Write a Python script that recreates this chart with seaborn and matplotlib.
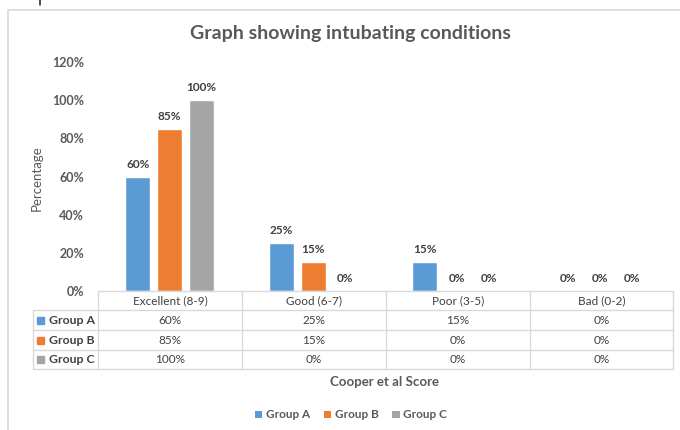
import matplotlib
matplotlib.use("Agg")
import matplotlib.pyplot as plt
from matplotlib.patches import Patch, Rectangle
from matplotlib.lines import Line2D
import seaborn as sns
import pandas as pd

categories = ["Excellent (8-9)", "Good (6-7)", "Poor (3-5)", "Bad (0-2)"]
groups = ["Group A", "Group B", "Group C"]
group_a = [60, 25, 15, 0]
group_b = [85, 15, 0, 0]
group_c = [100, 0, 0, 0]
y_ticks = [0, 20, 40, 60, 80, 100, 120]
colors = ["#5B9BD5", "#ED7D31", "#A5A5A5"]

series = {"Group A": group_a, "Group B": group_b, "Group C": group_c}
rows = []
for g in groups:
    for c, v in zip(categories, series[g]):
        rows.append({"Score": c, "Group": g, "Value": v})
df = pd.DataFrame(rows)

sns.set_theme(style="white")
plt.rcParams["font.family"] = ["Lato", "DejaVu Sans"]

W, H = 680, 430
fig = plt.figure(figsize=(W / 100, H / 100), dpi=100)

def fx(px):
    return px / W

def fy(py):
    return 1 - py / H

# chart frame
fig.add_artist(Line2D([fx(8), fx(8)], [fy(10), 0], color="#D9D9D9", lw=1.2))
fig.add_artist(Line2D([fx(8), 1], [fy(10), fy(10)], color="#D9D9D9", lw=1.2))
fig.add_artist(Line2D([fx(40), fx(40)], [1, fy(5)], color="#333333", lw=1.2))

# main plot area
ax = fig.add_axes([fx(98), fy(291), fx(672) - fx(98), fy(62) - fy(291)])
sns.barplot(data=df, x="Score", y="Value", hue="Group", palette=colors,
            width=0.667, gap=0.22, ax=ax, legend=False, saturation=1)
ax.set_xlim(-0.5, 3.5)
ax.set_ylim(0, 120)
ax.set_yticks(y_ticks)
ax.set_yticklabels([f"{t}%" for t in y_ticks], color="#595959",
                   fontsize=9, fontweight="bold")
ax.tick_params(axis="y", length=0, pad=10)
ax.set_xticks([])
ax.set_xlabel("")
ax.set_ylabel("")
for s in ax.spines.values():
    s.set_visible(False)

for container in ax.containers:
    ax.bar_label(container, labels=[f"{v:.0f}%" for v in container.datavalues],
                 padding=5, fontsize=8.5, fontweight="bold", color="#404040")

fig.text(fx(37), fy(178), "Percentage", rotation=90, ha="center", va="center",
         fontsize=9.5, color="#595959")
fig.text(fx(350), fy(34), "Graph showing intubating conditions", ha="center",
         va="center", fontsize=14, fontweight="bold", color="#595959")
fig.text(fx(385), fy(382), "Cooper et al Score", ha="center", va="center",
         fontsize=9.5, fontweight="bold", color="#595959")

# data table under the bars
grid = "#D9D9D9"
col_x = [98, 242, 386, 530, 673]
row_y = [291, 310, 330, 350, 369]
tl = 33
lw = 1.0
fig.add_artist(Line2D([fx(98), fx(673)], [fy(291), fy(291)], color=grid, lw=lw))
for yy in row_y[1:]:
    fig.add_artist(Line2D([fx(tl), fx(673)], [fy(yy), fy(yy)], color=grid, lw=lw))
fig.add_artist(Line2D([fx(tl), fx(tl)], [fy(310), fy(369)], color=grid, lw=lw))
for xx in col_x:
    fig.add_artist(Line2D([fx(xx), fx(xx)], [fy(291), fy(369)], color=grid, lw=lw))

for i, c in enumerate(categories):
    cx = (col_x[i] + col_x[i + 1]) / 2
    fig.text(fx(cx), fy(300.5), c, ha="center", va="center", fontsize=8.5,
             color="#404040")
for r, g in enumerate(groups):
    cy = (row_y[r + 1] + row_y[r + 2]) / 2
    fig.add_artist(Rectangle((fx(37), fy(cy + 3.5)), fx(7), 7 / H,
                             color=colors[r], transform=fig.transFigure))
    fig.text(fx(49), fy(cy), g, ha="left", va="center", fontsize=8.8,
             color="#404040", fontweight="bold")
    for i, v in enumerate(series[g]):
        cx = (col_x[i] + col_x[i + 1]) / 2
        fig.text(fx(cx), fy(cy), f"{v}%", ha="center", va="center",
                 fontsize=8.5, color="#404040")

handles = [Patch(facecolor=c, edgecolor="none", label=g)
           for c, g in zip(colors, groups)]
leg = fig.legend(handles=handles, loc="center", bbox_to_anchor=(fx(351), fy(415)),
                 ncol=3, frameon=False, handlelength=0.6, handleheight=0.6,
                 handletextpad=0.3, columnspacing=1.2,
                 prop={"size": 8.5, "weight": "bold"})
for t in leg.get_texts():
    t.set_color("#595959")

fig.savefig("out.png", dpi=100)
